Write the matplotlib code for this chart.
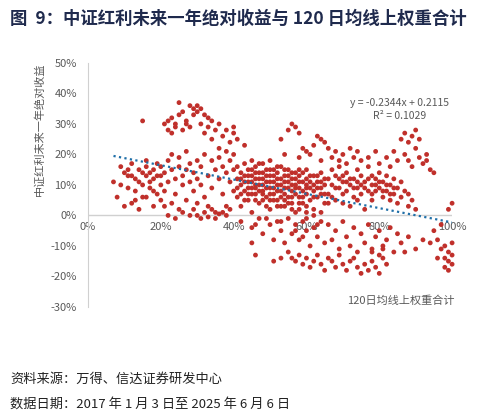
import matplotlib
matplotlib.use("Agg")
import matplotlib.pyplot as plt
import numpy as np

plt.rcParams['font.family'] = ['Noto Sans CJK SC', 'DejaVu Sans']

pts = [
# left group
(7,11),(8,6),(9,16),(10,3),(10,14),(11,9),(11,13),(12,4),(12,17),(13,12),(13,8),(14,15),(14,2),(15,10),(15,14),(15,31),(16,6),(16,13),(16,18),(17,11),(17,9),(18,15),(18,3),(18,12),(19,17),(19,7),(19,13),(20,10),(20,16),(20,5),(9,10),(12,13),(14,11),(16,16),(17,14),(13,5),(18,8),(20,13),(11,15),(15,6),
# 20-30 mid
(21,14),(21,8),(22,18),(22,11),(23,4),(23,15),(23,20),(24,12),(24,7),(25,16),(25,2),(25,19),(26,10),(26,13),(27,15),(27,5),(27,21),(28,11),(28,17),(29,8),(29,14),(30,12),(30,18),(30,4),(22,0),(24,-1),(26,1),(28,0),(29,2),(21,3),
# high cluster
(21,30),(22,31),(22,28),(23,27),(23,32),(24,30),(24,29),(25,37),(25,33),(26,34),(26,28),(27,31),(27,30),(28,36),(28,29),(29,33),(29,35),(30,34),(30,36),(31,35),(31,30),(32,33),(32,27),(33,32),(33,29),(34,31),(34,25),(35,28),(36,30),(36,22),(37,26),(38,28),(39,24),(40,29),(40,27),(41,25),(43,23),
# 30-40 mid
(31,10),(31,16),(32,6),(32,20),(33,13),(33,3),(34,18),(34,9),(35,15),(35,1),(36,12),(36,19),(37,7),(37,16),(38,14),(38,21),(38,3),(39,11),(39,18),(40,8),(40,15),(40,20),(32,1),(33,-0.5),(34,2),(35,-1),(36,0.5),(37,1),(38,0),(39,2),(30,0),(31,-1),
# 40-65 dense
(41,12),(41,6),(41,16),(42,10),(42,14),(42,3),(43,8),(43,13),(43,17),(44,11),(44,5),(44,15),(45,9),(45,13),(45,1),(45,18),(46,7),(46,12),(46,16),(47,10),(47,4),(47,14),(48,8),(48,12),(48,17),(49,6),(49,11),(49,15),(50,9),(50,13),(50,2),(50,18),(51,7),(51,11),(51,15),(52,5),(52,10),(52,14),(53,8),(53,12),(53,16),(54,3),(54,9),(54,13),(55,6),(55,11),(55,15),(56,4),(56,8),(56,12),(57,10),(57,14),(57,1),(58,6),(58,9),(58,13),(59,4),(59,11),(60,7),(60,12),(60,15),(61,5),(61,9),(62,8),(62,13),(62,2),(63,6),(63,11),(64,9),(64,14),(65,4),(65,10),(46,10),(47,8),(48,14),(49,9),(51,13),(52,8),(53,10),(54,7),(55,9),(56,10),(57,7),(58,11),(59,8),(60,10),(44,9),(43,11),(42,7),(45,11),(50,11),(52,12),(53,6),(55,13),(57,12),(59,14),(61,11),(63,9),
# extra density 40-65
(41,9),(42,12),(43,5),(44,13),(45,7),(45,15),(46,5),(46,14),(47,12),(47,17),(48,10),(48,5),(49,13),(49,3),(50,7),(50,15),(51,9),(51,5),(52,16),(53,3),(54,11),(54,15),(55,4),(56,14),(56,6),(57,9),(58,4),(58,15),(59,6),(60,9),(60,3),(61,13),(62,10),(62,6),(63,13),(64,7),(64,11),(65,12),(65,7),(44,7),(46,9),(48,7),(50,5),(52,3),(54,5),(56,2),(58,2),(60,1),(62,0),(64,1),
# 40-65 below zero
(42,-2),(45,-4),(47,-1),(48,-6),(50,-3),(51,-8),(52,-2),(53,-5),(54,-9),(55,-1),(56,-6),(57,-3),(58,-8),(59,-2),(60,-5),(61,-10),(62,-4),(63,-7),(64,-2),(65,-9),(49,-1),(46,-3),(55,-12),(45,-9),(60,-1),(53,-2),(57,-5),(59,-7),(63,-3),
# upper 55-75
(53,25),(55,28),(56,30),(57,29),(58,27),(59,22),(60,21),(61,20),(62,23),(63,26),(64,25),(65,24),(66,22),(67,19),(68,21),(69,18),(70,20),(54,20),(58,19),(64,18),(72,22),(74,21),
# 65-90 dense
(66,12),(66,7),(67,10),(67,15),(68,5),(68,13),(69,9),(69,16),(70,11),(70,4),(71,8),(71,14),(72,10),(72,3),(73,12),(73,6),(74,9),(74,15),(75,7),(75,13),(76,11),(76,2),(77,8),(77,16),(78,10),(78,5),(79,12),(79,8),(80,9),(80,14),(81,6),(81,11),(82,8),(82,13),(83,5),(83,10),(84,7),(84,12),(85,9),(85,4),(86,6),(87,8),(88,3),(89,5),(90,2),(86,11),(88,7),(70,13),(72,12),(74,11),(76,9),(78,13),(80,11),(82,10),
(67,6),(68,9),(69,12),(71,11),(73,9),(75,10),(77,12),(79,10),(81,8),(83,7),(66,4),(70,7),(74,5),(78,7),(84,9),
# upper 70-85
(71,17),(73,19),(75,18),(77,19),(79,21),(80,17),(82,19),(83,16),(84,21),(85,18),
# right 85-95
(86,25),(87,27),(88,24),(89,26),(90,28),(87,20),(88,18),(89,16),(90,22),(91,19),(92,17),(93,20),(94,15),(95,14),(91,25),(93,18),
# 65-95 negatives
(66,-3),(67,-8),(68,-5),(69,-11),(70,-2),(71,-7),(72,-10),(73,-4),(74,-12),(75,-6),(76,-9),(77,-3),(78,-11),(79,-7),(80,-5),(81,-10),(82,-8),(83,-4),(84,-12),(85,-6),(86,-9),(88,-7),(90,-11),(92,-8),(94,-9),(87,-12),
# bottom band
(56,-14),(57,-15),(58,-13),(59,-16),(60,-14),(61,-17),(62,-15),(63,-13),(64,-16),(65,-18),(66,-14),(67,-15),(68,-17),(69,-13),(70,-16),(71,-18),(72,-15),(73,-14),(74,-17),(75,-19),(76,-16),(77,-18),(78,-15),(79,-17),(80,-19),(81,-14),(82,-16),(46,-13),(51,-15),(53,-14),(78,-12),(80,-13),(81,-11),
# right end
(95,-5),(96,-8),(97,-11),(98,-14),(99,-15),(100,-16),(98,-10),(99,-12),(100,-13),(97,-3),(99,2),(100,4),(96,-14),(98,-17),(99,-18),(100,-9),
]
xs = [p[0] / 100 for p in pts]
ys = [p[1] / 100 for p in pts]

slope, intercept = -0.2344, 0.2115
trend_x = [0.07, 1.0]
yticks = [-0.3, -0.2, -0.1, 0, 0.1, 0.2, 0.3, 0.4, 0.5]
xticks = [0, 0.2, 0.4, 0.6, 0.8, 1.0]

fig = plt.figure(figsize=(4.93, 4.17), dpi=100)
ax = fig.add_axes([0.1785, 0.264, 0.7385, 0.585])
ax.scatter(xs, ys, s=12, color='#c0302b', edgecolors='none', clip_on=False, zorder=3)
ax.plot(trend_x, [slope * x + intercept for x in trend_x], linestyle=(0, (1, 1.5)),
        color='#1f6fa8', lw=1.6, zorder=4)
ax.set_xlim(0, 1)
ax.set_ylim(-0.3, 0.5)
for s in ['top', 'right', 'bottom']:
    ax.spines[s].set_visible(False)
ax.spines['left'].set_color('#d0d0d0')
ax.axhline(0, color='#d0d0d0', lw=1, zorder=1)
ax.set_yticks(yticks)
ax.set_yticklabels([f"{int(round(v*100))}%" for v in yticks], color='#595959', fontsize=8)
ax.tick_params(axis='y', length=0, pad=8)
ax.set_xticks([])
for v in xticks:
    ax.text(v, -0.02, f"{int(round(v*100))}%", ha='center', va='top', color='#595959', fontsize=8, zorder=2)
ax.text(0.855, 0.37, "y = -0.2344x + 0.2115", ha='center', va='center', color='#595959', fontsize=7.5, zorder=5)
ax.text(0.855, 0.325, "R² = 0.1029", ha='center', va='center', color='#595959', fontsize=7.5, zorder=5)
ax.text(0.86, -0.28, "120日均线上权重合计", ha='center', va='center', color='#595959', fontsize=8)
fig.text(0.081, 0.69, "中证红利未来一年绝对收益", rotation=90, ha='center', va='center', color='#595959', fontsize=8)

fig.text(0.02, 0.955, "图  9：中证红利未来一年绝对收益与 120 日均线上权重合计", ha='left', va='center',
         color='#1f2a4d', fontsize=12.5, fontweight='bold')
fig.text(0.02, 0.09, "资料来源：万得、信达证券研发中心", ha='left', va='center', color='#222222', fontsize=9.5, style='italic')
fig.text(0.02, 0.03, "数据日期：2017 年 1 月 3 日至 2025 年 6 月 6 日", ha='left', va='center', color='#222222', fontsize=9.5, style='italic')

fig.savefig("out.png", dpi=100)
